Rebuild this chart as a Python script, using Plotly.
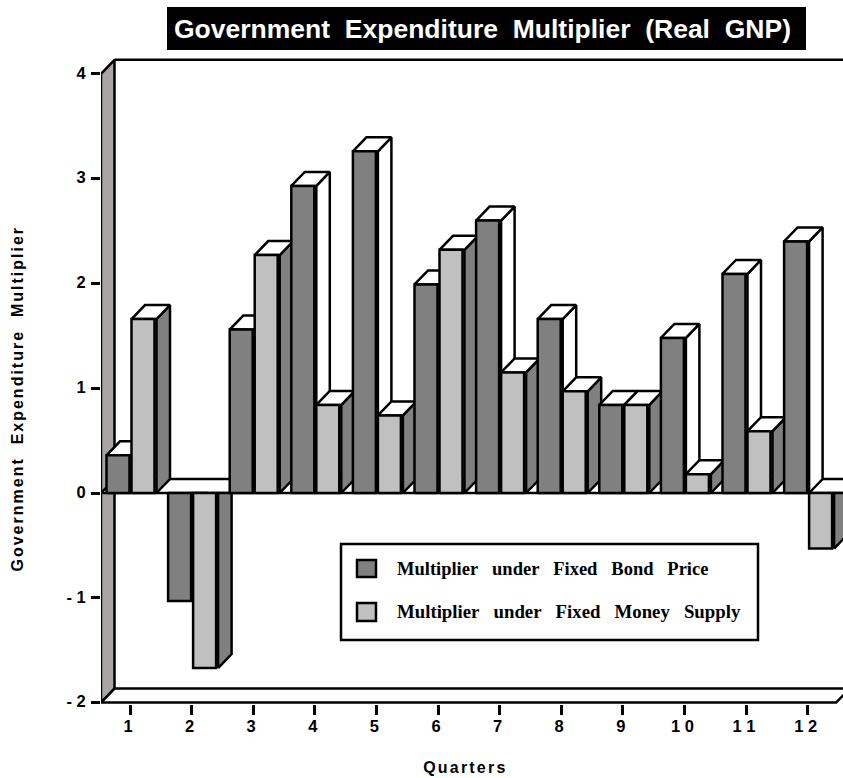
import plotly.graph_objects as go

quarters = list(range(1, 13))
tick_labels = ["1", "2", "3", "4", "5", "6", "7", "8", "9", "1 0", "1 1", "1 2"]
bond_price = [0.36, -1.03, 1.56, 2.93, 3.26, 1.99, 2.60, 1.66, 0.84, 1.48, 2.09, 2.40]
money_supply = [1.66, -1.67, 2.27, 0.84, 0.74, 2.32, 1.15, 0.97, 0.84, 0.18, 0.59, -0.53]
y_ticks = [-2, -1, 0, 1, 2, 3, 4]
y_tick_labels = ["- 2", "- 1", "0", "1", "2", "3", "4"]
series_names = ["Multiplier  under  Fixed  Bond  Price", "Multiplier  under  Fixed  Money  Supply"]
title_text = "Government  Expenditure  Multiplier  (Real  GNP)"
x_title = "Quarters"
y_title = "Government  Expenditure  Multiplier"

W, H = 843, 778
L, R, T, B = 101, 843, 50, 704
PX_X, PX_Y = 61.6, 104.8
Y0 = 493
x_range = [1 - (130 - L) / PX_X, 1 + (R - 130) / PX_X]
y_range = [(Y0 - B) / PX_Y, (Y0 - T) / PX_Y]
DX, DY = 13.5 / PX_X, 14 / PX_Y
BW = 24.5 / PX_X
GAP = 2 / PX_X
DARK, LIGHT, WALL = "#808080", "#c0c0c0", "#a9a5a5"
x_end = 12 + 28.5 / PX_X

fig = go.Figure()


def poly(xs, ys, fill="none", lw=2.5):
    closed = fill != "none"
    fig.add_trace(go.Scatter(
        x=list(xs) + ([xs[0]] if closed else []),
        y=list(ys) + ([ys[0]] if closed else []),
        mode="lines", line=dict(color="black", width=lw),
        fill="toself" if closed else "none",
        fillcolor=fill if closed else None,
        cliponaxis=False, hoverinfo="skip", showlegend=False))


def bar3d(x0, x1, v, front, side):
    xs = x1 + GAP
    if v >= 0:
        poly([xs, xs + DX, xs + DX, xs], [0, DY, v + DY, v], side)
        poly([x0, x0 + DX, xs + DX, xs], [v, v + DY, v + DY, v], "white")
    else:
        poly([xs, xs + DX, xs + DX, xs], [v, v + DY, 0, 0], side)
    poly([x0, x1, x1, x0], [0, 0, v, v], front)


ymin, ymax = y_ticks[0], y_ticks[-1]
x_left = x_range[0]
# walls, floor, zero plane
poly([x_left + DX, x_range[1] + 1], [ymax + DY, ymax + DY])
poly([x_left, x_left + DX, x_left + DX, x_left], [ymin, ymin + DY, ymax + DY, ymax], WALL)
poly([x_left, x_end, x_end + DX, x_left + DX], [ymin, ymin, ymin + DY, ymin + DY], "white")
poly([x_left, x_range[1] + 1, x_range[1] + 1, x_left + DX], [0, 0, DY, DY], "white")

for q, b, m in zip(quarters, bond_price, money_supply):
    bar3d(q - BW + 1 / PX_X, q - GAP / 2 + 0.5 / PX_X, b, DARK, "white")
    bar3d(q + GAP / 2 + 0.5 / PX_X, q + BW, m, LIGHT, DARK)


def px(x):
    return (x - L) / (R - L)


def py(y):
    return (B - y) / (B - T)


def nb(s):
    return s.replace("  ", "\u00a0\u00a0\u00a0")


shapes = [
    dict(type="rect", xref="paper", yref="paper", x0=px(167), x1=px(806), y0=py(50), y1=py(7),
         fillcolor="black", line=dict(width=0)),
    dict(type="rect", xref="paper", yref="paper", x0=px(341), x1=px(758), y0=py(640), y1=py(544),
         fillcolor="white", line=dict(color="black", width=2.5)),
    dict(type="rect", xref="paper", yref="paper", x0=px(357), x1=px(376), y0=py(577), y1=py(560),
         fillcolor=DARK, line=dict(color="black", width=2.5)),
    dict(type="rect", xref="paper", yref="paper", x0=px(357), x1=px(376), y0=py(621), y1=py(603),
         fillcolor=LIGHT, line=dict(color="black", width=2.5)),
]
annotations = [
    dict(text=title_text.replace(" ", "\u00a0"), xref="paper", yref="paper", x=px(482), y=py(29),
         xanchor="center", yanchor="middle", showarrow=False,
         font=dict(family="Liberation Sans", size=26.5, color="white", weight="bold")),
    dict(text=nb(series_names[0]), xref="paper", yref="paper", x=px(394.5), y=py(569),
         xanchor="left", yanchor="middle", showarrow=False,
         font=dict(family="Liberation Serif", size=18.5, color="black", weight="bold")),
    dict(text=nb(series_names[1]), xref="paper", yref="paper", x=px(394.5), y=py(611),
         xanchor="left", yanchor="middle", showarrow=False,
         font=dict(family="Liberation Serif", size=18.8, color="black", weight="bold")),
    dict(text=x_title, xref="paper", yref="paper", x=px(465), y=py(767),
         xanchor="center", yanchor="middle", showarrow=False,
         font=dict(family="Liberation Sans", size=16, color="black", weight="bold")),
    dict(text=y_title.replace(" ", "\u00a0"), xref="paper", yref="paper", x=px(16.5), y=py(399),
         xanchor="center", yanchor="middle", textangle=-90, showarrow=False,
         font=dict(family="Liberation Sans", size=16, color="black", weight="bold")),
]

tickfont = dict(family="Liberation Sans", size=16.5, color="black", weight="bold")
fig.update_layout(
    width=W, height=H, plot_bgcolor="white", paper_bgcolor="white", showlegend=False,
    margin=dict(l=L, r=W - R, t=T, b=H - B, autoexpand=False),
    shapes=shapes, annotations=annotations,
    xaxis=dict(range=x_range, tickmode="array", tickvals=quarters, ticktext=tick_labels, ticks="outside",
               ticklen=10, tickwidth=2.5, tickcolor="black", showgrid=False, zeroline=False, showline=False,
               tickfont=tickfont, ticklabelshift=-2, ticklabelstandoff=-3),
    yaxis=dict(range=y_range, tickmode="array", tickvals=y_ticks, ticktext=y_tick_labels, ticks="outside",
               ticklen=9, tickwidth=2.5, tickcolor="black", showgrid=False, zeroline=False, showline=False,
               tickfont=tickfont, ticklabelstandoff=2, ticklabelshift=-1),
)
post = """
document.body.style.margin = '0';
document.querySelectorAll('.annotation-text').forEach(function (t) {
  var s = t.textContent;
  if (s === 'Quarters') t.style.letterSpacing = '2.2px';
  if (s.indexOf('Government') === 0 && s.indexOf('GNP') < 0) t.style.letterSpacing = '2px';
});
"""
fig.write_html("out.html", post_script=post, config=dict(displayModeBar=False))
